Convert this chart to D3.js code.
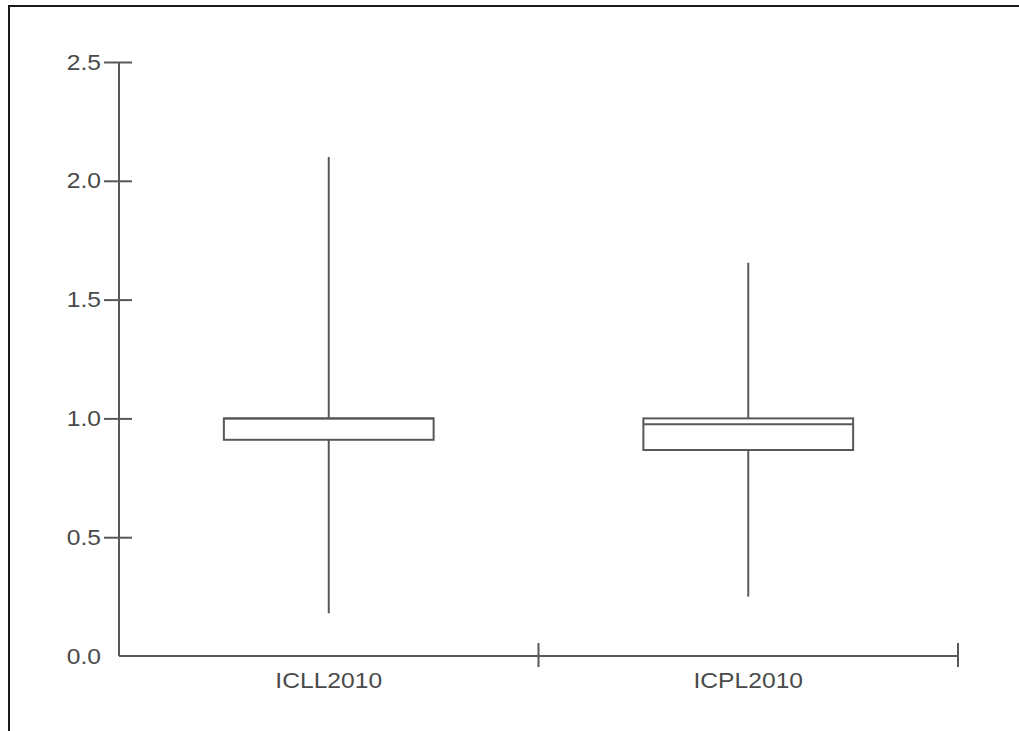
<!DOCTYPE html>
<html>
<head>
<meta charset="utf-8">
<script src="https://cdn.jsdelivr.net/npm/d3@7"></script>
<style>
  html, body { margin: 0; padding: 0; background: #fff; }
  svg { display: block; }
</style>
</head>
<body>
<svg id="chart" width="1019" height="731"></svg>
<script>
// Data
const categories = ["ICLL2010", "ICPL2010"];
const whiskerLow  = [0.18, 0.25];
const q1          = [0.91, 0.867];
const median      = [1.0, 0.975];
const q3          = [1.0, 1.0];
const whiskerHigh = [2.1, 1.655];
const yTicks = [0.0, 0.5, 1.0, 1.5, 2.0, 2.5];

const svg = d3.select("#chart");
const lineColor = "#585858";
const textColor = "#4a4a4a";
const fontFamily = "'Liberation Sans', Arial, Helvetica, sans-serif";
const stretch = 1.12;

// frame (extends past the window on right/bottom)
svg.append("rect")
  .attr("x", 9).attr("y", 6)
  .attr("width", 1040).attr("height", 760)
  .attr("fill", "none").attr("stroke", "#1a1a1a").attr("stroke-width", 2);

const plotLeft = 119, plotRight = 958, plotTop = 62, plotBottom = 656;
const y = d3.scaleLinear().domain([0, 2.5]).range([plotBottom, plotTop]);
const x = d3.scaleBand().domain(categories).range([plotLeft, plotRight]).paddingInner(0).paddingOuter(0);

// Y axis
const yAxis = svg.append("g").attr("transform", `translate(${plotLeft},0)`)
  .call(d3.axisLeft(y).tickValues(yTicks).tickFormat(d3.format(".1f")).tickSize(15).tickPadding(3));
yAxis.select(".domain").attr("d", `M0,${plotTop}V${plotBottom}`).attr("stroke", lineColor).attr("stroke-width", 2);
yAxis.selectAll(".tick line")
  .attr("x1", -15).attr("x2", 13)
  .attr("stroke", lineColor).attr("stroke-width", 2)
  .attr("display", d => d === 0 ? "none" : null);
yAxis.selectAll(".tick text")
  .attr("fill", textColor).attr("font-family", fontFamily).attr("font-size", 22)
  .attr("x", -18 / stretch)
  .attr("transform", `scale(${stretch},1)`);

// X axis
const xAxis = svg.append("g").attr("transform", `translate(0,${plotBottom})`)
  .call(d3.axisBottom(x).tickSize(0).tickPadding(20));
xAxis.select(".domain").attr("d", `M${plotLeft},0H${plotRight}`).attr("stroke", lineColor).attr("stroke-width", 2);
xAxis.selectAll(".tick text")
  .attr("fill", textColor).attr("font-family", fontFamily).attr("font-size", 22)
  .attr("dy", "0.71em").attr("y", 16)
  .attr("transform", `scale(${stretch},1)`);
// band separators as ticks
const sepPositions = categories.map(c => x(c) + x.bandwidth());
xAxis.selectAll("line.sep").data(sepPositions).enter().append("line")
  .attr("class", "sep")
  .attr("x1", d => d).attr("x2", d => d)
  .attr("y1", -13).attr("y2", 11)
  .attr("stroke", lineColor).attr("stroke-width", 2);

// Boxes
const boxW = x.bandwidth() * 0.5;
const g = svg.append("g");
categories.forEach((c, i) => {
  const cx = x(c) + x.bandwidth() / 2;
  g.append("line").attr("x1", cx).attr("x2", cx)
    .attr("y1", y(whiskerHigh[i])).attr("y2", y(q3[i]))
    .attr("stroke", lineColor).attr("stroke-width", 2);
  g.append("line").attr("x1", cx).attr("x2", cx)
    .attr("y1", y(q1[i])).attr("y2", y(whiskerLow[i]))
    .attr("stroke", lineColor).attr("stroke-width", 2);
  g.append("rect")
    .attr("x", cx - boxW / 2).attr("width", boxW)
    .attr("y", y(q3[i])).attr("height", y(q1[i]) - y(q3[i]))
    .attr("fill", "#fff").attr("stroke", lineColor).attr("stroke-width", 2);
  g.append("line")
    .attr("x1", cx - boxW / 2).attr("x2", cx + boxW / 2)
    .attr("y1", y(median[i])).attr("y2", y(median[i]))
    .attr("stroke", lineColor).attr("stroke-width", 2);
});
</script>
</body>
</html>
